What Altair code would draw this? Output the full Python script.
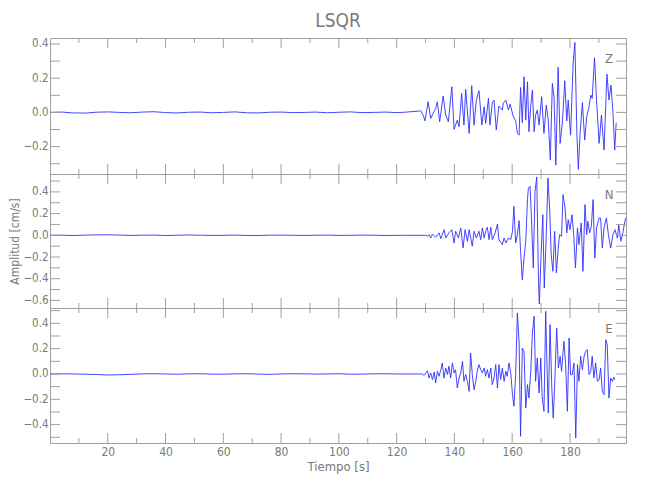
import altair as alt
import pandas as pd

FONT = "'DejaVu Sans Condensed', 'Liberation Sans Narrow', 'Liberation Sans', sans-serif"
TXT = "#7a7a7a"
LN = "#a0a0a0"
BLUE = "#3030ff"

W = 576
X_DOMAIN = [0.0, 199.4]
X_LABELS = [20, 40, 60, 80, 100, 120, 140, 160, 180]
X_MINOR = [10, 30, 50, 70, 90, 110, 130, 150, 170, 190]

QUIET_T = [0, 4, 8, 12, 16, 20, 24, 28, 32, 36, 40, 44, 48, 52, 56, 60, 64, 68, 72, 76,
           80, 84, 88, 92, 96, 100, 104, 108, 112, 116, 120]

Z_QUIET = [0.000, 0.002, -0.003, -0.004, 0.001, 0.003, 0.000, -0.002, 0.002, 0.004, -0.001,
           -0.003, 0.001, 0.002, -0.002, 0.000, 0.003, -0.002, -0.003, 0.001, 0.002, -0.001,
           0.000, 0.002, -0.002, 0.001, 0.003, -0.001, 0.000, 0.002, -0.001]
N_QUIET = [0.000, 0.001, -0.002, 0.002, 0.004, 0.005, 0.002, -0.001, 0.001, 0.002, -0.002,
           0.001, 0.003, 0.001, -0.001, 0.000, 0.002, -0.001, -0.002, 0.001, 0.002, 0.000,
           -0.001, 0.001, 0.002, -0.001, 0.000, 0.002, 0.001, -0.002, 0.000]
E_QUIET = [0.000, 0.001, 0.000, -0.002, -0.004, -0.008, -0.006, -0.003, 0.001, 0.002, 0.000,
           -0.002, 0.001, 0.002, -0.001, -0.002, 0.001, 0.002, -0.001, -0.003, 0.000, 0.002,
           0.001, -0.001, 0.000, 0.002, -0.002, -0.001, 0.001, 0.002, 0.000]

Z_T = [122.0, 127.8, 128.3, 129.2, 129.8, 130.9, 131.8, 132.6, 133.5, 134.1, 134.9, 136.1,
       137.0, 137.9, 139.1, 139.9, 141.0, 141.6, 142.5, 143.3, 143.9, 145.1, 146.0, 146.8,
       147.6, 148.5, 149.5, 150.3, 150.8, 151.8, 152.3, 153.1, 153.7, 154.5, 155.4, 156.6,
       156.9, 157.8, 158.7, 159.3, 160.3, 161.2, 161.8, 162.4, 162.9, 163.5, 164.1, 164.7,
       165.3, 165.8, 166.4, 167.0, 167.6, 168.1, 168.7, 169.3, 170.2, 171.0, 171.8, 172.5,
       173.2, 173.9, 174.5, 175.1, 175.9, 176.6, 177.4, 178.2, 178.9, 179.4, 180.2, 181.1,
       181.7, 182.4, 182.9, 183.5, 184.3, 185.1, 185.8, 186.6, 187.2, 187.7, 188.5, 189.2,
       190.1, 190.9, 191.8, 192.8, 193.5, 194.2, 194.9, 195.5, 196.0]
Z_V = [0.0, 0.008, 0.010, -0.016, -0.049, 0.062, -0.035, -0.006, 0.023, 0.062, -0.055, 0.096,
       -0.016, -0.055, 0.150, -0.099, -0.045, -0.084, 0.111, -0.074, 0.135, -0.123, 0.156, -0.074,
       0.072, 0.127, -0.074, 0.033, -0.064, 0.082, -0.074, 0.057, 0.072, -0.103, 0.037, 0.014,
       0.053, 0.072, 0.014, 0.049, -0.021, -0.049, -0.123, -0.133, 0.146, -0.060, 0.209, -0.045,
       0.179, -0.113, 0.037, 0.131, -0.113, -0.016, 0.014, -0.074, 0.092, -0.123, 0.043, -0.045,
       -0.279, 0.170, 0.088, -0.308, 0.263, -0.181, -0.055, 0.185, -0.049, 0.072, -0.133, 0.287,
       0.409, -0.123, -0.333, -0.123, 0.057, -0.162, -0.025, 0.033, 0.101, 0.082, 0.320, 0.072,
       -0.181, -0.016, -0.220, 0.224, 0.072, 0.160, -0.006, -0.220, -0.060]

N_T = [122.0, 130.1, 130.7, 131.2, 131.8, 132.4, 133.5, 134.7, 135.3, 136.4, 137.0, 138.1,
       139.1, 139.9, 140.4, 141.4, 142.2, 143.0, 143.7, 144.5, 145.1, 146.2, 146.8, 147.6,
       148.5, 149.1, 149.7, 150.3, 150.8, 151.4, 152.0, 152.6, 153.1, 154.1, 154.9, 155.4,
       156.6, 157.2, 157.8, 158.7, 159.5, 160.1, 160.6, 161.2, 161.8, 162.4, 162.9, 163.5,
       164.1, 164.7, 165.3, 165.6, 166.2, 166.8, 167.3, 167.9, 168.5, 169.1, 169.4, 170.0,
       170.6, 171.1, 171.8, 172.4, 173.0, 173.5, 174.1, 174.7, 175.3, 175.9, 176.4, 177.1,
       177.6, 178.3, 178.9, 179.4, 180.0, 180.7, 181.3, 181.9, 182.6, 183.1, 183.9, 184.5,
       185.2, 185.8, 186.2, 186.8, 187.4, 188.0, 188.6, 189.2, 190.1, 190.6, 191.2, 191.8,
       192.6, 193.3, 194.1, 194.9, 195.6, 196.4, 196.9, 197.6, 198.3, 198.8, 199.3]
N_V = [0.0, 0.0, -0.009, 0.006, -0.025, 0.012, -0.018, 0.022, -0.031, 0.052, -0.025, 0.022,
       0.052, -0.071, 0.037, -0.025, 0.068, -0.117, 0.052, -0.055, 0.052, -0.101, 0.037, -0.025,
       0.037, -0.040, 0.068, -0.025, 0.037, 0.074, -0.040, 0.074, -0.040, 0.022, 0.104, -0.040,
       -0.086, -0.025, -0.071, -0.025, -0.040, 0.037, 0.267, -0.071, 0.006, 0.135, -0.147, -0.409,
       -0.209, -0.055, 0.329, 0.436, 0.452, 0.068, -0.301, 0.406, 0.538, -0.424, -0.633, -0.178,
       0.190, -0.485, 0.006, 0.528, 0.221, -0.178, -0.332, 0.037, -0.347, -0.132, 0.006, -0.009,
       0.375, 0.252, 0.022, 0.144, 0.052, 0.190, 0.006, -0.301, 0.068, -0.086, 0.114, -0.332,
       0.283, 0.006, 0.129, 0.022, 0.083, 0.329, -0.209, 0.068, 0.160, 0.160, -0.117, 0.068,
       0.160, 0.006, -0.117, 0.006, 0.052, -0.025, 0.098, -0.055, 0.022, 0.098, 0.160]

E_T = [122.0, 128.9, 129.5, 130.7, 131.2, 131.8, 132.4, 133.0, 133.5, 134.1, 134.7, 135.3,
       135.8, 136.4, 137.0, 137.6, 138.1, 138.7, 139.3, 139.9, 140.4, 141.0, 141.6, 142.2,
       142.8, 143.3, 143.9, 144.5, 145.1, 145.6, 146.2, 146.8, 147.4, 147.9, 148.5, 149.1,
       149.7, 150.3, 150.8, 151.4, 152.0, 152.6, 153.1, 153.7, 154.3, 154.9, 155.4, 156.0,
       156.6, 157.2, 157.8, 158.3, 158.9, 159.5, 160.1, 160.6, 161.2, 161.8, 162.4, 162.9,
       163.5, 164.1, 164.7, 165.3, 165.8, 166.4, 167.0, 167.6, 168.1, 168.7, 169.3, 169.9,
       170.4, 171.0, 171.6, 171.9, 172.5, 173.1, 173.7, 174.2, 174.7, 175.4, 176.0, 176.6,
       177.1, 177.9, 178.5, 179.1, 179.7, 180.2, 180.8, 181.4, 182.0, 182.6, 183.1, 183.7,
       184.3, 184.9, 185.4, 186.0, 186.6, 187.2, 187.7, 188.3, 188.9, 189.5, 190.1, 190.6,
       191.2, 191.8, 192.4, 192.9, 193.5, 194.1, 194.7, 195.2, 195.5]
E_V = [0.0, 0.0, -0.011, 0.026, -0.032, 0.008, -0.045, 0.016, -0.071, 0.021, -0.018, 0.034,
       0.087, -0.032, 0.047, -0.005, 0.061, -0.032, 0.087, 0.008, 0.034, -0.111, -0.032, 0.008,
       0.100, -0.058, -0.005, -0.058, -0.137, 0.166, -0.005, -0.124, -0.058, 0.021, 0.074, 0.034,
       0.008, 0.047, -0.018, 0.034, -0.032, 0.047, -0.084, -0.032, 0.074, -0.111, 0.074, -0.045,
       0.047, -0.058, 0.021, -0.018, 0.087, 0.008, -0.163, -0.255, -0.005, 0.482, 0.245, -0.492,
       0.205, 0.179, -0.269, -0.084, -0.190, 0.008, 0.324, 0.456, -0.058, 0.126, -0.150, 0.126,
       -0.190, -0.295, 0.495, 0.205, -0.308, 0.390, -0.097, -0.348, -0.097, 0.363, 0.047, 0.140,
       0.021, 0.258, 0.074, -0.295, 0.284, -0.005, -0.005, 0.087, -0.506, 0.074, -0.058, 0.140,
       0.034, 0.140, 0.179, 0.192, -0.005, 0.021, 0.140, -0.032, 0.087, -0.058, -0.045, 0.047,
       -0.137, -0.163, 0.271, 0.232, -0.190, -0.032, -0.058, -0.026, -0.045]

PANELS = [
    # comp, quiet, t, v, y-domain, labels, ticks, height
    ("Z", Z_QUIET, Z_T, Z_V, [-0.36, 0.435], [-0.2, 0.0, 0.2, 0.4],
     [-0.3, -0.2, -0.1, 0.0, 0.1, 0.2, 0.3, 0.4], 136),
    ("N", N_QUIET, N_T, N_V, [-0.67, 0.565], [-0.6, -0.4, -0.2, 0.0, 0.2, 0.4],
     [-0.6, -0.5, -0.4, -0.3, -0.2, -0.1, 0.0, 0.1, 0.2, 0.3, 0.4, 0.5], 134),
    ("E", E_QUIET, E_T, E_V, [-0.545, 0.521], [-0.4, -0.2, 0.0, 0.2, 0.4],
     [-0.5, -0.4, -0.3, -0.2, -0.1, 0.0, 0.1, 0.2, 0.3, 0.4, 0.5], 135),
]


def panel(i, comp, quiet, t, v, ydom, ylabels, yticks, H):
    df = pd.DataFrame({"t": QUIET_T + t, "v": quiet + v})
    xscale = alt.Scale(domain=X_DOMAIN, nice=False, zero=False)
    yscale = alt.Scale(domain=ydom, nice=False, zero=False)
    if i == 2:
        xaxis = alt.Axis(values=X_LABELS, format="d", ticks=False, domain=False, grid=False,
                         labelPadding=3, labelOverlap=False, labelFontSize=12,
                         title="Tiempo [s]", titlePadding=3, titleFontSize=13)
    else:
        xaxis = None
    ykw = dict(values=ylabels, format=".1f", ticks=False, domain=False, grid=False,
               labelPadding=2, labelOverlap=False, labelSeparation=0, titlePadding=1,
               labelFontSize=11.5, titleFontSize=12)
    if i == 1:
        ykw["title"] = "Amplitud [cm/s]"
    else:
        ykw["title"] = None
    yaxis = alt.Axis(**ykw)

    def X(field):
        return alt.X(field, type="quantitative", scale=xscale, axis=xaxis)

    def Y(field):
        return alt.Y(field, type="quantitative", scale=yscale, axis=yaxis)

    line = alt.Chart(df).mark_line(color=BLUE, strokeWidth=0.9, clip=True).encode(
        x=X("t"), y=Y("v"))
    ydf = pd.DataFrame({"v": yticks})
    yl = alt.Chart(ydf).mark_rule(color=LN).encode(
        y=Y("v"), x=alt.value(0), x2=alt.value(10))
    yr = alt.Chart(ydf).mark_rule(color=LN).encode(
        y=Y("v"), x=alt.value(W - 10), x2=alt.value(W))
    majdf = pd.DataFrame({"t": X_LABELS})
    mindf = pd.DataFrame({"t": X_MINOR})
    layers = [line, yl, yr]
    for d, L in ((majdf, 10), (mindf, 5)):
        layers.append(alt.Chart(d).mark_rule(color=LN).encode(
            x=X("t"), y=alt.value(H), y2=alt.value(H - L)))
        layers.append(alt.Chart(d).mark_rule(color=LN).encode(
            x=X("t"), y=alt.value(0), y2=alt.value(L)))
    lab = alt.Chart(pd.DataFrame({"c": [comp]})).mark_text(
        align="center", baseline="middle", font=FONT, fontSize=13, color=TXT
    ).encode(x=alt.value(559), y=alt.value(21), text="c:N")
    layers.append(lab)
    ch = alt.layer(*layers).properties(width=W, height=H)
    if i == 0:
        ch = ch.properties(title=alt.TitleParams(
            "LSQR", anchor="middle", frame="group", fontSize=19, font=FONT,
            color=TXT, fontWeight="normal", offset=7))
    return ch


charts = [panel(i, *p) for i, p in enumerate(PANELS)]

chart = alt.vconcat(*charts, spacing=0, bounds="flush").properties(
    padding={"left": 0, "top": 3, "right": 10, "bottom": 4}
).configure_view(stroke=LN, strokeWidth=1).configure_axis(
    labelFont=FONT, labelColor=TXT, labelOverlap=False,
    titleFont=FONT, titleColor=TXT, titleFontWeight="normal",
)

chart.save("out.html", embed_options={"renderer": "svg", "actions": False})
